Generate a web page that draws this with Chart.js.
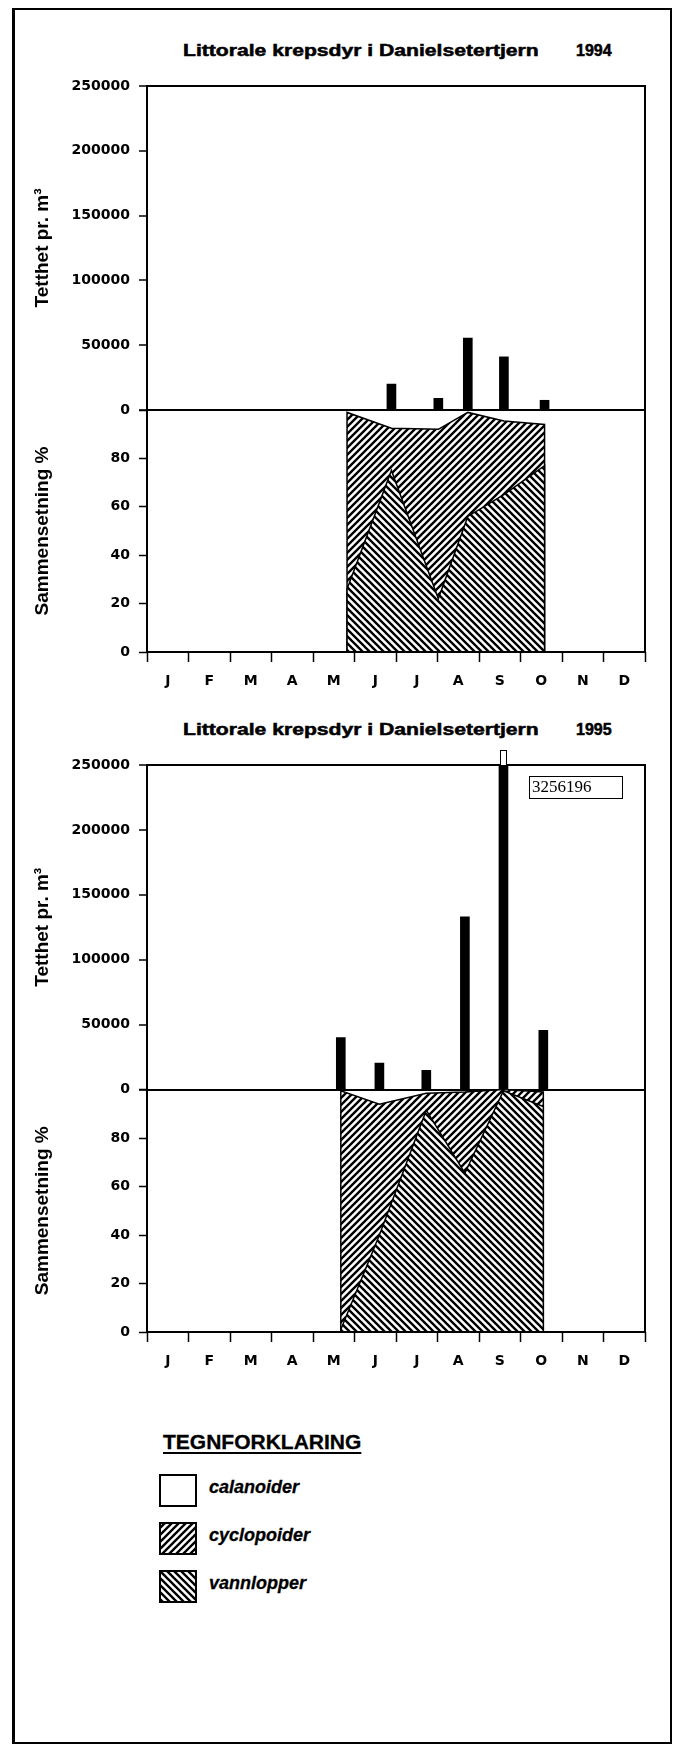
<!DOCTYPE html>
<html>
<head>
<meta charset="utf-8">
<script src="https://cdn.jsdelivr.net/npm/chart.js@4.4.1/dist/chart.umd.min.js"></script>
<style>
  html, body { margin: 0; padding: 0; background: #fff; }
  body { width: 676px; height: 1746px; position: relative; overflow: hidden; color: #000;
         font-family: 'Liberation Sans', Arial, sans-serif; }
  .frame { position: absolute; left: 12px; top: 8px; width: 660px; height: 1736px; box-sizing: border-box;
           border: 2px solid #000; border-left-width: 3px; }
  canvas.chart { position: absolute; left: 15px; }
  .ttl, .yr { position: absolute; font-weight: bold; font-size: 16px; line-height: 16px; white-space: nowrap;
              -webkit-text-stroke: 0.5px #000; }
  .ttl { left: 183px; transform: scaleX(1.32); transform-origin: 0 0; }
  .yr { left: 576px; }
  .lgTitle { position: absolute; left: 163px; top: 1431px; font-weight: bold; font-size: 21px; line-height: 21px;
             text-decoration: underline; text-decoration-thickness: 2px; text-underline-offset: 3px;
             -webkit-text-stroke: 0.3px #000; }
  .lgText { position: absolute; left: 209px; font-weight: bold; font-style: italic; font-size: 18px; line-height: 18px;
            -webkit-text-stroke: 0.3px #000; }
  .lgBox { position: absolute; left: 159px; }
</style>
</head>
<body>
<div class="frame"></div>

<div class="ttl" id="t1" style="top:43px"></div><div class="yr" id="y1" style="top:43px"></div>
<canvas id="c1994" class="chart" width="650" height="626" style="top:66px"></canvas>

<div class="ttl" id="t2" style="top:722px"></div><div class="yr" id="y2" style="top:722px"></div>
<canvas id="c1995" class="chart" width="650" height="627" style="top:745px"></canvas>

<div class="lgTitle">TEGNFORKLARING</div>
<div id="legend"></div>

<script>
const months = ['J', 'F', 'M', 'A', 'M', 'J', 'J', 'A', 'S', 'O', 'N', 'D'];
const densityTicks = [0, 50000, 100000, 150000, 200000, 250000];
const percentTicks = [0, 20, 40, 60, 80, 100];
const seriesNames = ['calanoider', 'cyclopoider', 'vannlopper'];
const titleText = 'Littorale krepsdyr i Danielsetertjern';
const years = ['1994', '1995'];

// prøvetidspunkt i måneder fra 1. januar
const sampleMonth1994 = [4.82, 5.89, 7.02, 7.73, 8.60, 9.58];
const density1994 = [0, 20000, 9000, 55500, 41000, 7500];
const calanoider1994 = [1, 7.5, 8, 1, 4.5, 6];
const cyclopoider1994 = [73, 17.5, 70, 43, 30.5, 17];
const vannlopper1994 = [26, 75, 22, 56, 65, 77];

const sampleMonth1995 = [4.67, 5.60, 6.73, 7.66, 8.59, 9.55];
const density1995 = [40000, 20500, 14800, 133000, 3256196, 45600];
const calanoider1995 = [0.5, 6, 1.5, 1, 0, 1];
const cyclopoider1995 = [98.5, 54, 7, 33.5, 0.5, 6];
const vannlopper1995 = [1, 40, 91.5, 65.5, 99.5, 93];

Chart.defaults.color = '#000';
Chart.defaults.font.family = "'DejaVu Sans', sans-serif";

const tickFont = { family: "'DejaVu Sans', sans-serif", weight: 'bold', size: 14 };
const axisTitleFont = { family: "'Liberation Sans', Arial, sans-serif", weight: 'bold', size: 19 };

// skravur: dir 1 = '///', dir -1 = '\\\'
function hatch(dir) {
    const s = 7;
    const c = document.createElement('canvas');
    c.width = s; c.height = s;
    const g = c.getContext('2d');
    g.fillStyle = '#fff';
    g.fillRect(0, 0, s, s);
    g.strokeStyle = '#000';
    g.lineWidth = 2.4;
    g.beginPath();
    if (dir > 0) {
        g.moveTo(-1, s + 1); g.lineTo(s + 1, -1);
        g.moveTo(-1, 1); g.lineTo(1, -1);
        g.moveTo(s - 1, s + 1); g.lineTo(s + 1, s - 1);
    } else {
        g.moveTo(-1, -1); g.lineTo(s + 1, s + 1);
        g.moveTo(s - 1, -1); g.lineTo(s + 1, 1);
        g.moveTo(-1, s - 1); g.lineTo(1, s + 1);
    }
    g.stroke();
    return g.createPattern(c, 'repeat');
}
const hatchFwd = hatch(1);
const hatchBack = hatch(-1);

function areaPoints(xs, ys) {
    const pts = xs.map((x, i) => ({ x: x, y: ys[i] }));
    return [{ x: xs[0], y: 0 }, ...pts, { x: xs[xs.length - 1], y: 0 }];
}

// ramme rundt plottet
const framePlugin = {
    id: 'frame',
    afterDatasetsDraw(chart) {
        const { ctx, chartArea: a } = chart;
        ctx.save();
        ctx.strokeStyle = '#000';
        ctx.lineWidth = 2;
        ctx.strokeRect(a.left, a.top, a.right - a.left, a.bottom - a.top);
        ctx.restore();
    }
};

// søyler som går over skalaen: hvit stump over rammen + verdi i boks
const overflowPlugin = {
    id: 'overflow',
    afterDatasetsDraw(chart) {
        const ys = chart.scales.y;
        const a = chart.chartArea;
        const ctx = chart.ctx;
        const values = chart.data.datasets[0].data;
        chart.getDatasetMeta(0).data.forEach((bar, i) => {
            const v = values[i].y;
            if (v <= ys.max) return;
            ctx.save();
            const w = bar.width - 2;
            ctx.fillStyle = '#fff';
            ctx.strokeStyle = '#000';
            ctx.lineWidth = 1;
            ctx.fillRect(bar.x - w / 2, a.top - 15, w, 15);
            ctx.strokeRect(bar.x - w / 2 + 0.5, a.top - 15 + 0.5, w - 1, 15);
            const bx = a.right - 116, by = a.top + 11;
            ctx.fillRect(bx, by, 93, 22);
            ctx.strokeRect(bx + 0.5, by + 0.5, 93, 22);
            ctx.fillStyle = '#000';
            ctx.font = "17px 'Liberation Serif', serif";
            ctx.textAlign = 'left';
            ctx.textBaseline = 'middle';
            ctx.fillText(String(v), bx + 3, by + 12);
            ctx.restore();
        });
    }
};

function createYearChart(canvasId, sampleMonth, density, cyclopoider, vannlopper) {
    const topLine = vannlopper.map((v, i) => v + cyclopoider[i]);
    return new Chart(document.getElementById(canvasId), {
        type: 'bar',
        data: {
            datasets: [{
                label: 'Tetthet',
                data: sampleMonth.map((x, i) => ({ x: x, y: density[i] })),
                backgroundColor: '#000',
                barThickness: 9,
                yAxisID: 'y',
                order: 0
            }, {
                type: 'line',
                label: seriesNames[2],
                data: areaPoints(sampleMonth, vannlopper),
                yAxisID: 'yp',
                fill: 'origin',
                backgroundColor: hatchBack,
                borderColor: '#000',
                borderWidth: 1.5,
                pointRadius: 0,
                tension: 0,
                order: 1
            }, {
                type: 'line',
                label: seriesNames[1],
                data: areaPoints(sampleMonth, topLine),
                yAxisID: 'yp',
                fill: 'origin',
                backgroundColor: hatchFwd,
                borderColor: '#000',
                borderWidth: 1.5,
                pointRadius: 0,
                tension: 0,
                order: 2
            }]
        },
        options: {
            responsive: false,
            animation: false,
            devicePixelRatio: 1,
            layout: { padding: { top: 20, left: 12, right: 20, bottom: 0 } },
            plugins: {
                legend: { display: false },
                tooltip: { enabled: false },
                title: { display: false }
            },
            scales: {
                yp: {
                    type: 'linear',
                    position: 'left',
                    stack: 'aar',
                    stackWeight: 242,
                    min: percentTicks[0],
                    max: percentTicks[percentTicks.length - 1],
                    border: { display: false },
                    ticks: {
                        stepSize: percentTicks[1] - percentTicks[0],
                        padding: 9,
                        font: tickFont,
                        callback: v => v < 100 ? v : ''
                    },
                    grid: { drawOnChartArea: false, tickLength: 8, tickColor: '#000', tickWidth: 1.5 },
                    title: { display: true, text: 'Sammensetning %', font: axisTitleFont, color: '#000' },
                    afterFit: s => { s.width = 120; }
                },
                y: {
                    type: 'linear',
                    position: 'left',
                    stack: 'aar',
                    stackWeight: 324,
                    min: densityTicks[0],
                    max: densityTicks[densityTicks.length - 1],
                    border: { display: false },
                    ticks: {
                        stepSize: densityTicks[1] - densityTicks[0],
                        padding: 9,
                        font: tickFont,
                        callback: v => String(v)
                    },
                    grid: {
                        color: c => (c.tick && c.tick.value === 0) ? '#000' : 'rgba(0,0,0,0)',
                        lineWidth: 2,
                        tickLength: 8,
                        tickColor: '#000',
                        tickWidth: 1.5
                    },
                    title: { display: true, text: 'Tetthet pr. m³', font: axisTitleFont, color: '#000' },
                    afterFit: s => { s.width = 120; }
                },
                x: {
                    type: 'linear',
                    position: 'bottom',
                    min: 0,
                    max: months.length,
                    offset: false,
                    border: { display: false },
                    ticks: { display: false, stepSize: 1 },
                    grid: { offset: false, drawOnChartArea: false, tickLength: 10, tickColor: '#000', tickWidth: 1.5 },
                    afterFit: s => { s.height = 10; }
                },
                x2: {
                    type: 'category',
                    position: 'bottom',
                    labels: months,
                    offset: true,
                    border: { display: false },
                    grid: { display: false },
                    ticks: { font: tickFont, padding: 3, maxRotation: 0, autoSkip: false },
                    afterFit: s => { s.height = 30; }
                }
            }
        },
        plugins: [framePlugin, overflowPlugin]
    });
}

document.getElementById('t1').textContent = titleText;
document.getElementById('y1').textContent = years[0];
document.getElementById('t2').textContent = titleText;
document.getElementById('y2').textContent = years[1];

createYearChart('c1994', sampleMonth1994, density1994, cyclopoider1994, vannlopper1994);
createYearChart('c1995', sampleMonth1995, density1995, cyclopoider1995, vannlopper1995);

// tegnforklaring
const legendFills = ['#fff', hatchFwd, hatchBack];
const legendEl = document.getElementById('legend');
seriesNames.forEach((name, i) => {
    const top = 1474 + i * 48;
    const box = document.createElement('canvas');
    box.className = 'lgBox';
    box.width = 38; box.height = 33;
    box.style.top = top + 'px';
    const g = box.getContext('2d');
    g.fillStyle = legendFills[i];
    g.fillRect(0, 0, 38, 33);
    g.strokeStyle = '#000';
    g.lineWidth = 2;
    g.strokeRect(1, 1, 36, 31);
    legendEl.appendChild(box);

    const txt = document.createElement('div');
    txt.className = 'lgText';
    txt.style.top = (top + 4) + 'px';
    txt.textContent = name;
    legendEl.appendChild(txt);
});
</script>
</body>
</html>
